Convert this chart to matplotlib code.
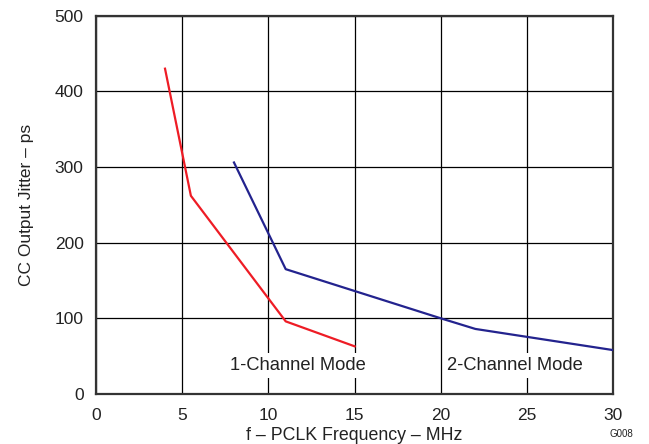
import matplotlib
matplotlib.use("Agg")
import matplotlib.pyplot as plt

# data
freq_1ch = [4.0, 5.5, 11.0, 15.0]
jitter_1ch = [430, 262, 96, 63]
freq_2ch = [8.0, 11.0, 20.0, 22.0, 30.0]
jitter_2ch = [306, 165, 100, 86, 58]

x_ticks = [0, 5, 10, 15, 20, 25, 30]
y_ticks = [0, 100, 200, 300, 400, 500]

plt.rcParams["font.family"] = ["Liberation Sans", "DejaVu Sans"]

fig = plt.figure(figsize=(6.49, 4.44), dpi=100)
ax = fig.add_axes([0.148, 0.1126, 0.797, 0.852])

ax.plot(freq_1ch, jitter_1ch, color="#ee1c25", linewidth=1.6, zorder=3)
ax.plot(freq_2ch, jitter_2ch, color="#23238e", linewidth=1.6, zorder=3)

ax.set_xlim(0, 30)
ax.set_ylim(0, 500)
ax.set_xticks(x_ticks)
ax.set_yticks(y_ticks)
ax.tick_params(axis="both", length=0, labelsize=12.5, colors="#222222")
ax.tick_params(axis="x", pad=10)
ax.tick_params(axis="y", pad=9)
ax.grid(True, color="black", linewidth=0.9)
ax.set_axisbelow(True)
for s in ax.spines.values():
    s.set_color("#333333")
    s.set_linewidth(1.6)

ax.set_xlabel("f – PCLK Frequency – MHz", fontsize=12.8, color="#222222", labelpad=3)
ax.set_ylabel("CC Output Jitter – ps", fontsize=12.5, color="#222222", labelpad=15)

box = dict(facecolor="white", edgecolor="none", pad=3)
ax.text(11.7, 38, "1-Channel Mode", fontsize=13.2, color="#222222",
        ha="center", va="center", bbox=box, zorder=4)
ax.text(24.3, 38, "2-Channel Mode", fontsize=13.2, color="#222222",
        ha="center", va="center", bbox=box, zorder=4)

fig.text(0.958, 0.012, "G008", fontsize=7, color="#222222", ha="center", va="bottom")

fig.savefig("out.png", dpi=100)
